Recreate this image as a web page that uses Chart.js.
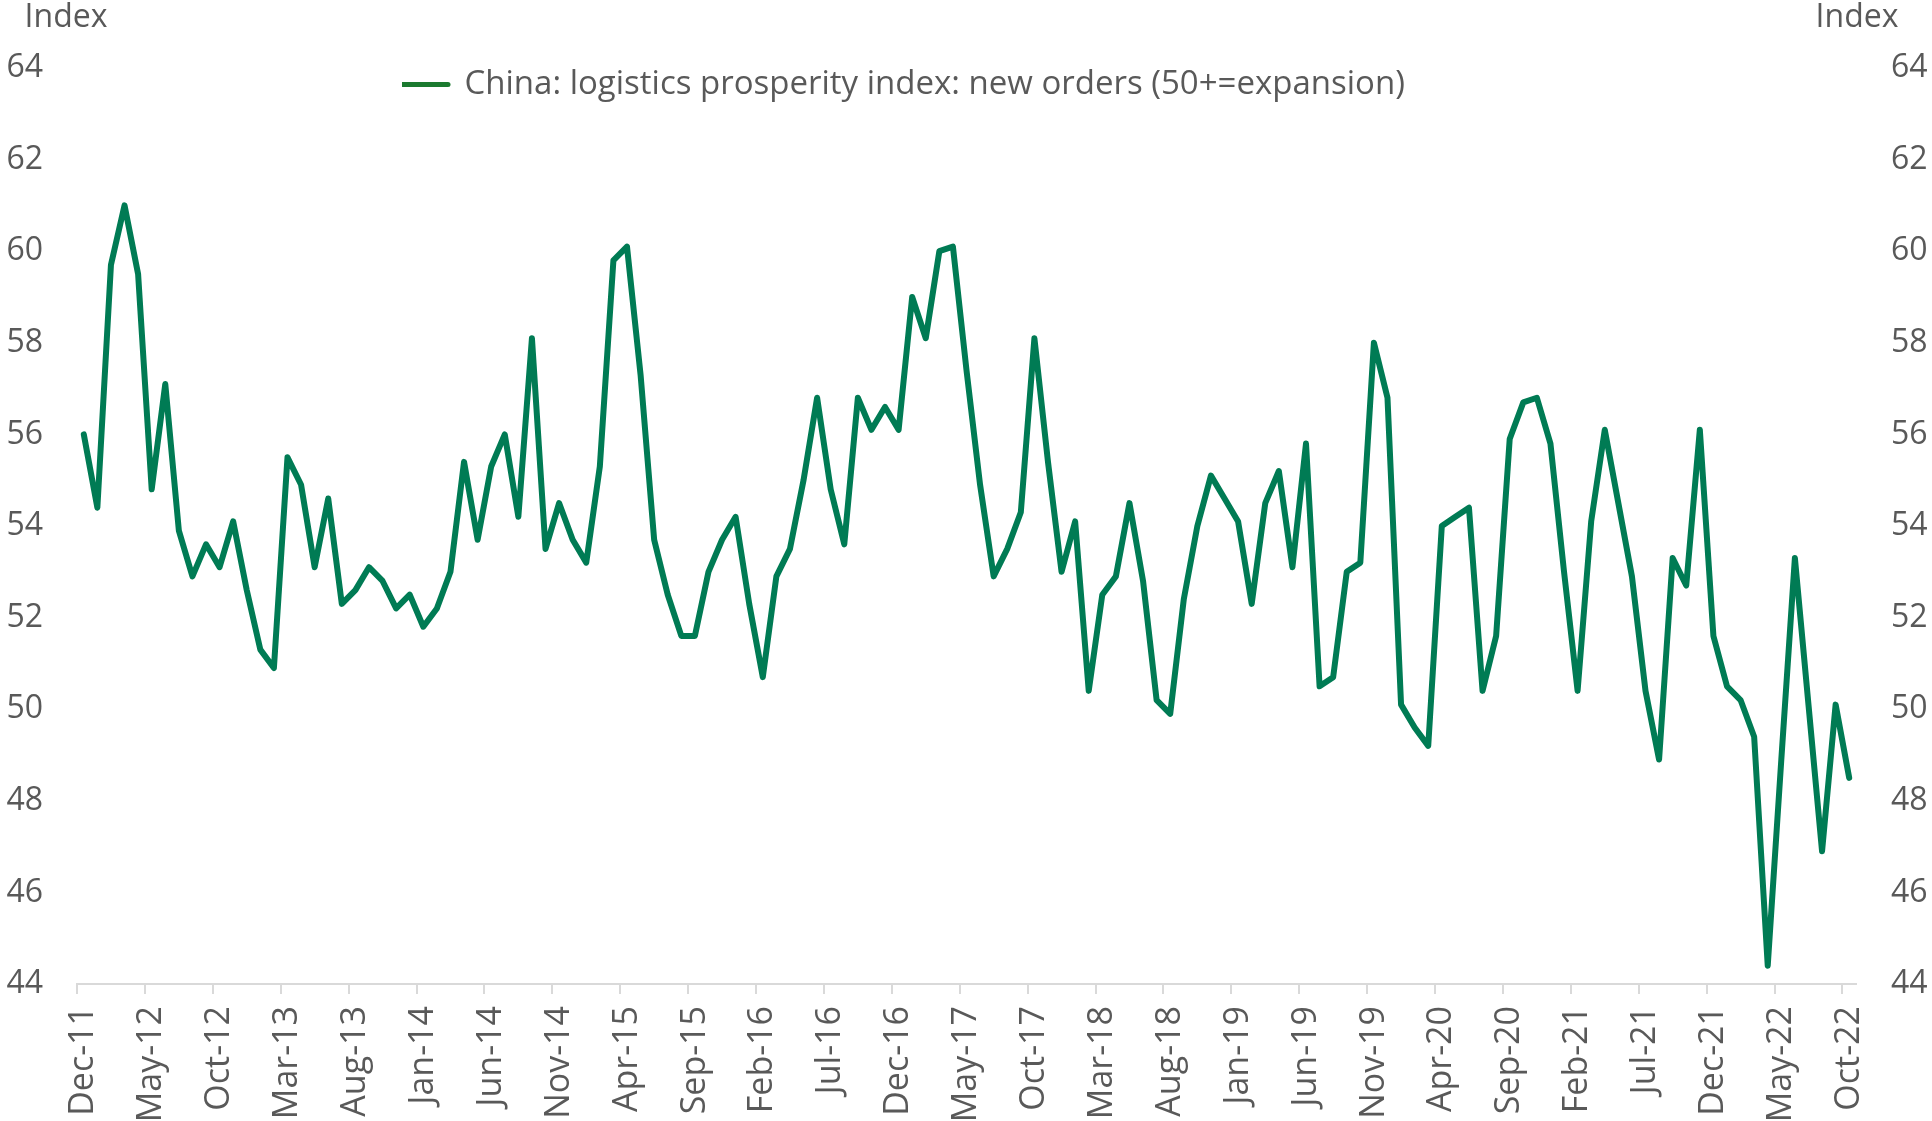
<!DOCTYPE html>
<html>
<head>
<meta charset="utf-8">
<title>China logistics prosperity index: new orders</title>
<script src="https://cdn.jsdelivr.net/npm/chart.js@4.4.1/dist/chart.umd.min.js"></script>
<style>
  html, body { margin: 0; padding: 0; background: #ffffff; }
  #wrap { width: 1932px; height: 1121px; }
</style>
</head>
<body>
<div id="wrap"><canvas id="chart" width="1932" height="1121"></canvas></div>
<script>
// Categories (monthly, Dec-11 .. Oct-22)
const months = [
  "Dec-11",
  "Jan-12","Feb-12","Mar-12","Apr-12","May-12","Jun-12","Jul-12","Aug-12","Sep-12","Oct-12","Nov-12","Dec-12",
  "Jan-13","Feb-13","Mar-13","Apr-13","May-13","Jun-13","Jul-13","Aug-13","Sep-13","Oct-13","Nov-13","Dec-13",
  "Jan-14","Feb-14","Mar-14","Apr-14","May-14","Jun-14","Jul-14","Aug-14","Sep-14","Oct-14","Nov-14","Dec-14",
  "Jan-15","Feb-15","Mar-15","Apr-15","May-15","Jun-15","Jul-15","Aug-15","Sep-15","Oct-15","Nov-15","Dec-15",
  "Jan-16","Feb-16","Mar-16","Apr-16","May-16","Jun-16","Jul-16","Aug-16","Sep-16","Oct-16","Nov-16","Dec-16",
  "Jan-17","Feb-17","Mar-17","Apr-17","May-17","Jun-17","Jul-17","Aug-17","Sep-17","Oct-17","Nov-17","Dec-17",
  "Jan-18","Feb-18","Mar-18","Apr-18","May-18","Jun-18","Jul-18","Aug-18","Sep-18","Oct-18","Nov-18","Dec-18",
  "Jan-19","Feb-19","Mar-19","Apr-19","May-19","Jun-19","Jul-19","Aug-19","Sep-19","Oct-19","Nov-19","Dec-19",
  "Jan-20","Feb-20","Mar-20","Apr-20","May-20","Jun-20","Jul-20","Aug-20","Sep-20","Oct-20","Nov-20","Dec-20",
  "Jan-21","Feb-21","Mar-21","Apr-21","May-21","Jun-21","Jul-21","Aug-21","Sep-21","Oct-21","Nov-21","Dec-21",
  "Jan-22","Feb-22","Mar-22","Apr-22","May-22","Jun-22","Jul-22","Aug-22","Sep-22","Oct-22"
];

// New orders index
const newOrders = [
  56.0,
  54.4, 59.7, 61.0, 59.5, 54.8, 57.1, 53.9, 52.9, 53.6, 53.1, 54.1, 52.6,
  51.3, 50.9, 55.5, 54.9, 53.1, 54.6, 52.3, 52.6, 53.1, 52.8, 52.2, 52.5,
  51.8, 52.2, 53.0, 55.4, 53.7, 55.3, 56.0, 54.2, 58.1, 53.5, 54.5, 53.7,
  53.2, 55.3, 59.8, 60.1, 57.3, 53.7, 52.5, 51.6, 51.6, 53.0, 53.7, 54.2,
  52.3, 50.7, 52.9, 53.5, 55.0, 56.8, 54.8, 53.6, 56.8, 56.1, 56.6, 56.1,
  59.0, 58.1, 60.0, 60.1, 57.4, 54.9, 52.9, 53.5, 54.3, 58.1, 55.4, 53.0,
  54.1, 50.4, 52.5, 52.9, 54.5, 52.8, 50.2, 49.9, 52.4, 54.0, 55.1, 54.6,
  54.1, 52.3, 54.5, 55.2, 53.1, 55.8, 50.5, 50.7, 53.0, 53.2, 58.0, 56.8,
  50.1, 49.6, 49.2, 54.0, 54.2, 54.4, 50.4, 51.6, 55.9, 56.7, 56.8, 55.8,
  53.0, 50.4, 54.1, 56.1, 54.5, 52.9, 50.4, 48.9, 53.3, 52.7, 56.1, 51.6,
  50.5, 50.2, 49.4, 44.4, 48.9, 53.3, 50.1, 46.9, 50.1, 48.5
];

// Axis settings
const yMin = 44;
const yMax = 64;
const yStep = 2;
const labelEvery = 5;
const axisTitle = "Index";
const seriesName = "China: logistics prosperity index: new orders (50+=expansion)";

const lineColor = "#007b54";
const legendColor = "#1b7a2f";
const textColor = "#595959";
const axisColor = "#d9d9d9";
const fontFamily = "'Open Sans', 'Noto Sans', sans-serif";

// "Index" captions above both value axes
const axisTitles = {
  id: "axisTitles",
  afterDraw(chart) {
    const { ctx, chartArea } = chart;
    ctx.save();
    ctx.font = "32px " + fontFamily;
    ctx.fillStyle = textColor;
    ctx.textAlign = "center";
    ctx.textBaseline = "middle";
    ctx.fillText(axisTitle, chartArea.left - 11, 18);
    ctx.fillText(axisTitle, chartArea.right + 1, 18);
    ctx.restore();
  }
};

// legend sits inside the plot at the top, left of centre
const legendPlace = {
  id: "legendPlace",
  afterLayout(chart) {
    const lg = chart.legend;
    if (!lg) return;
    const w = lg.width;
    const h = lg.height;
    lg.left = 402;
    lg.right = 402 + w;
    lg.top = chart.chartArea.top;
    lg.bottom = lg.top + h;
  }
};

const ctx = document.getElementById("chart").getContext("2d");

new Chart(ctx, {
  type: "line",
  data: {
    labels: months,
    datasets: [{
      label: seriesName,
      data: newOrders,
      borderColor: lineColor,
      backgroundColor: lineColor,
      borderWidth: 6,
      borderCapStyle: "round",
      borderJoinStyle: "round",
      pointRadius: 0,
      tension: 0,
      yAxisID: "y"
    }]
  },
  options: {
    responsive: false,
    devicePixelRatio: 1,
    animation: false,
    layout: { padding: { top: 68, left: 0, right: 0, bottom: 0 } },
    plugins: {
      title: { display: false },
      tooltip: { enabled: false },
      legend: {
        display: true,
        position: "chartArea",
        align: "start",
        labels: {
          color: textColor,
          font: { family: fontFamily, size: 33 },
          usePointStyle: true,
          pointStyle: "line",
          pointStyleWidth: 46,
          padding: 0,
          generateLabels(chart) {
            const items = Chart.defaults.plugins.legend.labels.generateLabels(chart);
            items.forEach(item => {
              item.strokeStyle = legendColor;
              item.fillStyle = legendColor;
              item.lineCap = "round";
              item.lineWidth = 5;
            });
            return items;
          }
        }
      }
    },
    scales: {
      x: {
        offset: true,
        afterFit: s => { s.height = 137; },
        grid: {
          offset: true,
          display: true,
          drawOnChartArea: false,
          drawTicks: true,
          tickLength: 10,
          lineWidth: 2,
          tickColor: c => (c.index !== undefined && c.index % labelEvery === 0) ? axisColor : "rgba(0,0,0,0)"
        },
        border: { display: true, color: axisColor, width: 2 },
        ticks: {
          autoSkip: false,
          minRotation: 90,
          maxRotation: 90,
          padding: 12,
          color: textColor,
          font: { family: fontFamily, size: 34 },
          callback: function (value, index) {
            return index % labelEvery === 0 ? this.getLabelForValue(value) : "";
          }
        }
      },
      y: {
        position: "left",
        min: yMin,
        max: yMax,
        afterFit: s => { s.width = 77; },
        grid: { display: false, drawTicks: false },
        border: { display: false },
        ticks: {
          stepSize: yStep,
          padding: 34,
          color: textColor,
          font: { family: fontFamily, size: 32 }
        }
      },
      y2: {
        position: "right",
        min: yMin,
        max: yMax,
        afterFit: s => { s.width = 76; },
        grid: { display: false, drawTicks: false },
        border: { display: false },
        ticks: {
          stepSize: yStep,
          padding: 35,
          color: textColor,
          font: { family: fontFamily, size: 32 }
        }
      }
    }
  },
  plugins: [axisTitles, legendPlace]
});
</script>
</body>
</html>
